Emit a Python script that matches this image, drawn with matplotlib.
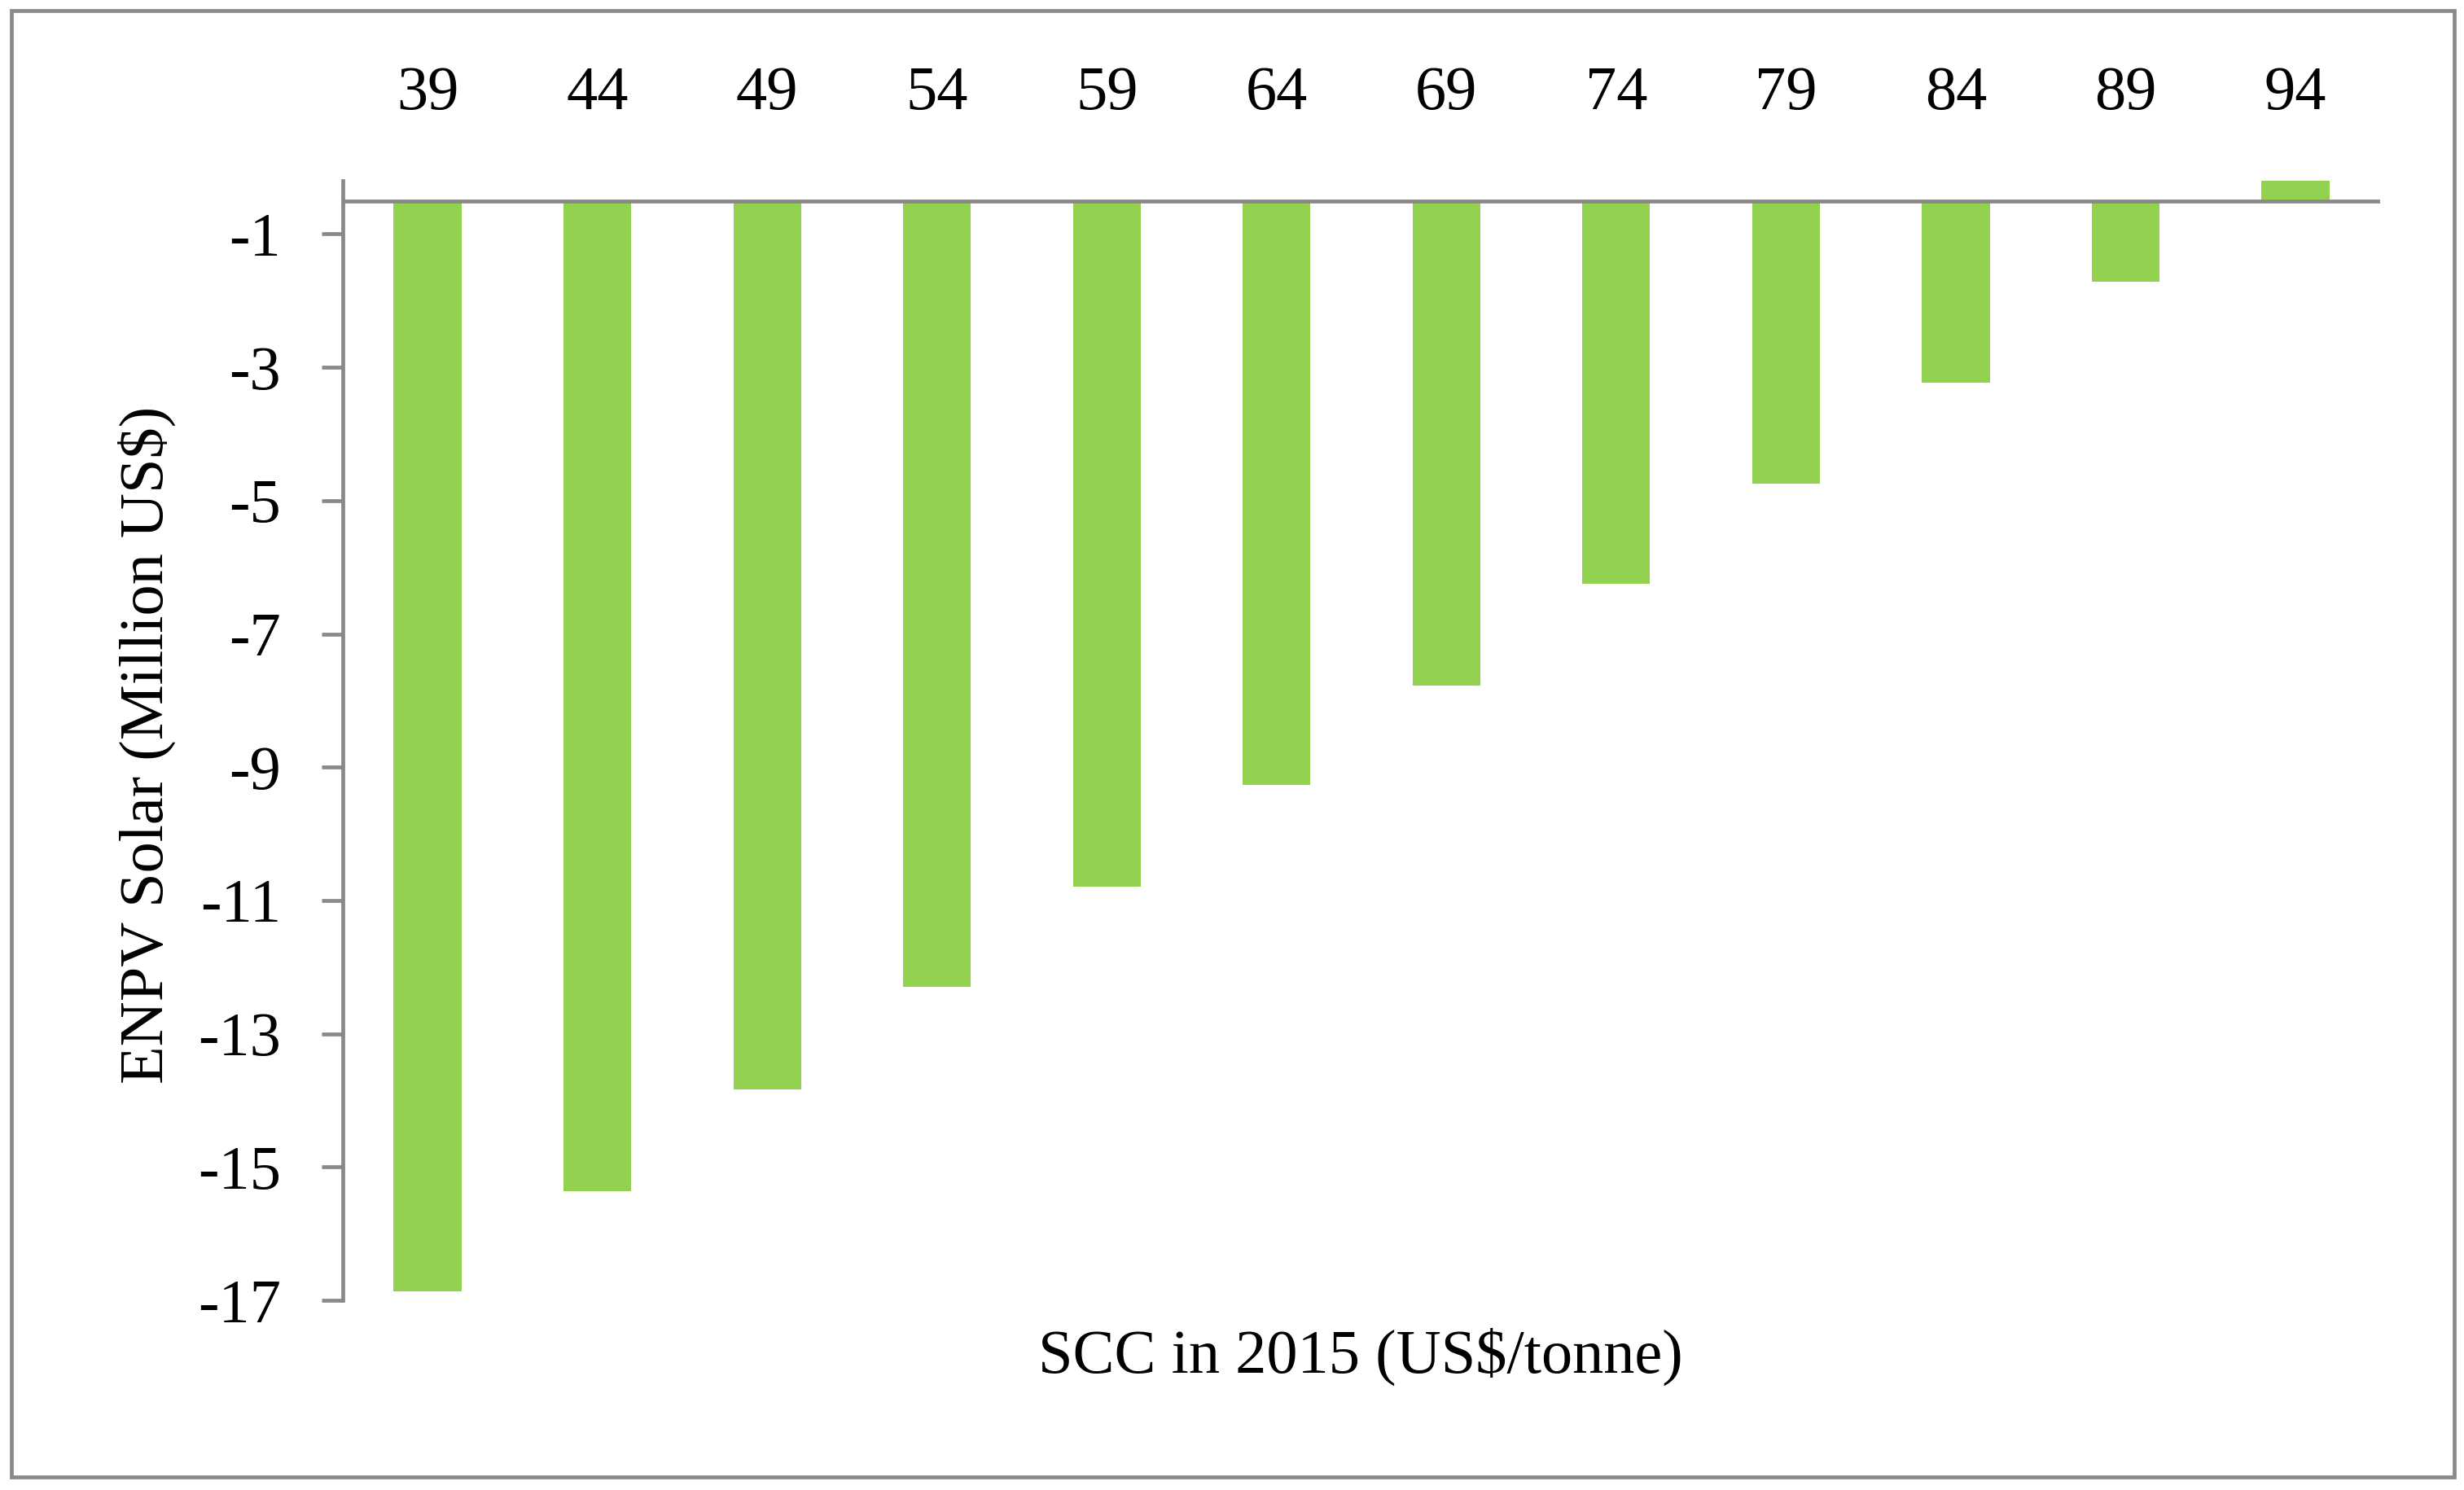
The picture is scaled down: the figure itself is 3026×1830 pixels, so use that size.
import matplotlib
matplotlib.use("Agg")
import matplotlib.pyplot as plt
from matplotlib.patches import Rectangle

# data
scc_2015 = [39, 44, 49, 54, 59, 64, 69, 74, 79, 84, 89, 94]
enpv_solar = [-16.87, -15.36, -13.83, -12.30, -10.79, -9.27,
              -7.77, -6.25, -4.74, -3.23, -1.71, -0.20]
y_ticks = [-17, -15, -13, -11, -9, -7, -5, -3, -1]

eje_cruce = -0.5  # the horizontal axis crosses the value axis here
gris = '#898989'
verde = '#92D050'

plt.rcParams['font.family'] = ['Liberation Serif', 'DejaVu Serif']
plt.rcParams['axes.unicode_minus'] = False

fig = plt.figure(figsize=(15.13, 9.15), dpi=200)
ax = fig.add_axes([0.1391, 0.1273, 0.8269, 0.7514])

pos = list(range(len(scc_2015)))
alturas = [v - eje_cruce for v in enpv_solar]
ax.bar(pos, alturas, bottom=eje_cruce, width=0.4, color=verde, zorder=2)
ax.axhline(eje_cruce, color=gris, linewidth=1.7, zorder=3)

ax.set_xlim(-0.5, len(scc_2015) - 0.5)
ax.set_ylim(-17, -0.2)

ax.xaxis.tick_top()
ax.set_xticks(pos)
ax.set_xticklabels([str(s) for s in scc_2015])
ax.tick_params(axis='x', length=0, pad=26, labelsize=27.5)

ax.set_yticks(y_ticks)
ax.set_yticklabels([str(t) for t in y_ticks])
ax.tick_params(axis='y', length=9.4, width=1.7, color=gris, pad=18, labelsize=27.5)

for lado in ['top', 'right', 'bottom']:
    ax.spines[lado].set_visible(False)
ax.spines['left'].set_color(gris)
ax.spines['left'].set_linewidth(1.7)

fig.text(180 / 3026, 1 - 915 / 1830, 'ENPV Solar (Million US$)', rotation=90,
         ha='center', va='center', fontsize=27.5)
fig.text(1671 / 3026, 1 - 1666 / 1830, 'SCC in 2015 (US$/tonne)',
         ha='center', va='center', fontsize=27.5)

# outer chart border
fig.patches.append(Rectangle((14 / 3026, 16 / 1830), 3000 / 3026, 1801 / 1830,
                             transform=fig.transFigure, fill=False,
                             edgecolor=gris, linewidth=1.7))

fig.savefig('out.png', dpi=200)
